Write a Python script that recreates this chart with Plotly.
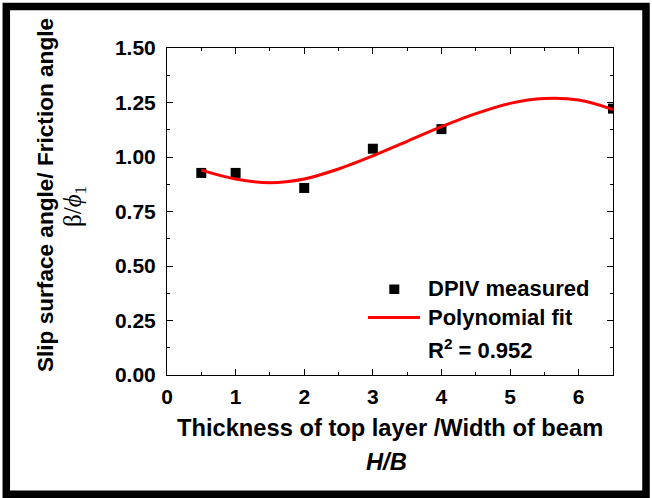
import plotly.graph_objects as go

# ---- data ----
hb_measured = [0.5, 1.0, 2.0, 3.0, 4.0, 6.5]
ratio_measured = [0.927, 0.927, 0.858, 1.038, 1.128, 1.222]

hb_fit = [0.5, 1.0, 1.5, 2.0, 2.5, 3.0, 3.5, 4.0, 4.5, 5.0, 5.5, 6.0, 6.5]
ratio_fit = [0.940, 0.899, 0.882, 0.899, 0.945, 1.005, 1.072, 1.139, 1.199,
             1.246, 1.268, 1.261, 1.218]

x_ticks = [0, 1, 2, 3, 4, 5, 6]
y_ticks = [0.00, 0.25, 0.50, 0.75, 1.00, 1.25, 1.50]

legend_labels = ["DPIV measured", "Polynomial fit", "R<sup>2</sup> = 0.952"]

FONT = "Liberation Sans, Arial, sans-serif"

fig = go.Figure()
fig.add_trace(go.Scatter(
    x=hb_measured, y=ratio_measured, mode="markers",
    marker=dict(symbol="square", size=10, color="black"),
    showlegend=False,
))
fig.add_trace(go.Scatter(
    x=hb_fit, y=ratio_fit, mode="lines",
    line=dict(color="#ff0000", width=3, shape="spline", smoothing=1.0),
    showlegend=False,
))

W, H = 652, 498
L, R, T, B = 167, 39, 48, 123
pw, ph = W - L - R, H - T - B


def px(xp):
    return (xp - L) / pw


def py(yp):
    return (H - B - yp) / ph


axis_common = dict(
    showline=True, linecolor="black", linewidth=1,
    ticks="inside", ticklen=6, tickwidth=1, tickcolor="black",
    mirror="ticks", showgrid=False, zeroline=False,
    tickfont=dict(family=FONT, size=21, color="black"),
)

fig.update_xaxes(
    range=[0, 6.5], tickvals=x_ticks, ticktext=[f"<b>{v}</b>" for v in x_ticks],
    minor=dict(ticks="inside", ticklen=3, tickcolor="black", dtick=0.5, tick0=0),
    ticklabelstandoff=3,
    **axis_common,
)
fig.update_yaxes(
    range=[0, 1.5], tickvals=y_ticks, ticktext=[f"<b>{v:.2f}</b>" for v in y_ticks],
    minor=dict(ticks="inside", ticklen=3, tickcolor="black", dtick=0.125, tick0=0),
    ticklabelstandoff=6,
    **axis_common,
)

annotations = [
    dict(text="<b>Thickness of top layer /Width of beam</b>", x=px(389.5), y=py(428),
         xref="paper", yref="paper", xanchor="center", yanchor="middle", showarrow=False,
         font=dict(family=FONT, size=23.7, color="black")),
    dict(text="<b><i>H/B</i></b>", x=px(386), y=py(462),
         xref="paper", yref="paper", xanchor="center", yanchor="middle", showarrow=False,
         font=dict(family=FONT, size=23.7, color="black")),
    dict(text="<b>Slip surface angle/ Friction angle</b>", x=px(45), y=py(195),
         xref="paper", yref="paper", xanchor="center", yanchor="middle", showarrow=False,
         textangle=-90, font=dict(family=FONT, size=22.6, color="black")),
    dict(text="β/<i>ϕ</i><sub>1</sub>", x=px(74), y=py(207),
         xref="paper", yref="paper", xanchor="center", yanchor="middle", showarrow=False,
         textangle=-90, font=dict(family="Liberation Serif, serif", size=25, color="black")),
]
for lab, yy in zip(legend_labels, [288.5, 317.5, 348.5]):
    annotations.append(dict(
        text=f"<b>{lab}</b>", x=px(426), y=py(yy), xref="paper", yref="paper",
        xanchor="left", yanchor="middle", showarrow=False,
        font=dict(family=FONT, size=22, color="black")))

shapes = [
    # legend marker
    dict(type="rect", xref="paper", yref="paper",
         x0=px(389.3), x1=px(399.3), y0=py(294), y1=py(284.5),
         fillcolor="black", line=dict(width=0)),
    # legend line
    dict(type="line", xref="paper", yref="paper",
         x0=px(368), x1=px(420), y0=py(317.5), y1=py(317.5),
         line=dict(color="#ff0000", width=3)),
    # outer frame
    dict(type="rect", xref="paper", yref="paper",
         x0=px(6.3), x1=px(646), y0=py(494.3), y1=py(6.5),
         line=dict(color="black", width=7.5), fillcolor="rgba(0,0,0,0)", layer="above"),
]

fig.update_layout(
    width=W, height=H,
    margin=dict(l=L, r=R, t=T, b=B, pad=0),
    paper_bgcolor="white", plot_bgcolor="white",
    showlegend=False,
    annotations=annotations,
    shapes=shapes,
    font=dict(family=FONT, color="black"),
)

fig.write_html("out.html")
